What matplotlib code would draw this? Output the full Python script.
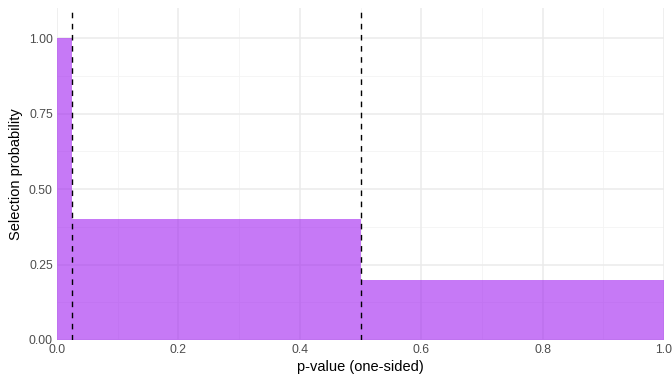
import matplotlib
matplotlib.use("Agg")
import matplotlib.pyplot as plt
import numpy as np

# step function data
p_breaks = [0.0, 0.025, 0.5, 1.0]
sel_prob = [1.0, 0.4, 0.2]
cutoffs = [0.025, 0.5]

x_ticks = [0.0, 0.2, 0.4, 0.6, 0.8, 1.0]
x_tick_labels = ["0.0", "0.2", "0.4", "0.6", "0.8", "1.0"]
y_ticks = [0.0, 0.25, 0.5, 0.75, 1.0]
y_tick_labels = ["0.00", "0.25", "0.50", "0.75", "1.00"]

plt.rcParams['font.family'] = ['Liberation Sans', 'DejaVu Sans']

fig = plt.figure(figsize=(6.72, 3.84), dpi=100)
ax = fig.add_axes([57/672, 44/384, 607/672, 332/384])

# grid
for v in np.arange(0.1, 1.0, 0.2):
    ax.axvline(v, color="#f4f4f4", lw=0.6, zorder=0)
for v in np.arange(0.125, 1.1, 0.25):
    ax.axhline(v, color="#f4f4f4", lw=0.6, zorder=0)
for v in x_ticks:
    ax.axvline(v, color="#ebebeb", lw=1.1, zorder=0)
for v in y_ticks:
    ax.axhline(v, color="#ebebeb", lw=1.1, zorder=0)

xs = np.array(p_breaks)
ys = np.array(sel_prob + [sel_prob[-1]])
ax.fill_between(xs, ys, 0, step="post", color="#a020f0", alpha=0.6, lw=0, zorder=1)

for c in cutoffs:
    ax.axvline(c, color="black", lw=1.0, ls=(0, (4, 4)), zorder=2)

ax.set_xlim(0, 1.0)
ax.set_ylim(0, 1.1)
ax.set_xticks(x_ticks)
ax.set_xticklabels(x_tick_labels)
ax.set_yticks(y_ticks)
ax.set_yticklabels(y_tick_labels)
ax.tick_params(length=0, labelsize=8.8, labelcolor="#4d4d4d", pad=3)
for s in ax.spines.values():
    s.set_visible(False)
ax.set_xlabel("p-value (one-sided)", fontsize=10.5, labelpad=3)
ax.set_ylabel("Selection probability", fontsize=10.5, labelpad=4)

fig.savefig("out.png", dpi=100)
